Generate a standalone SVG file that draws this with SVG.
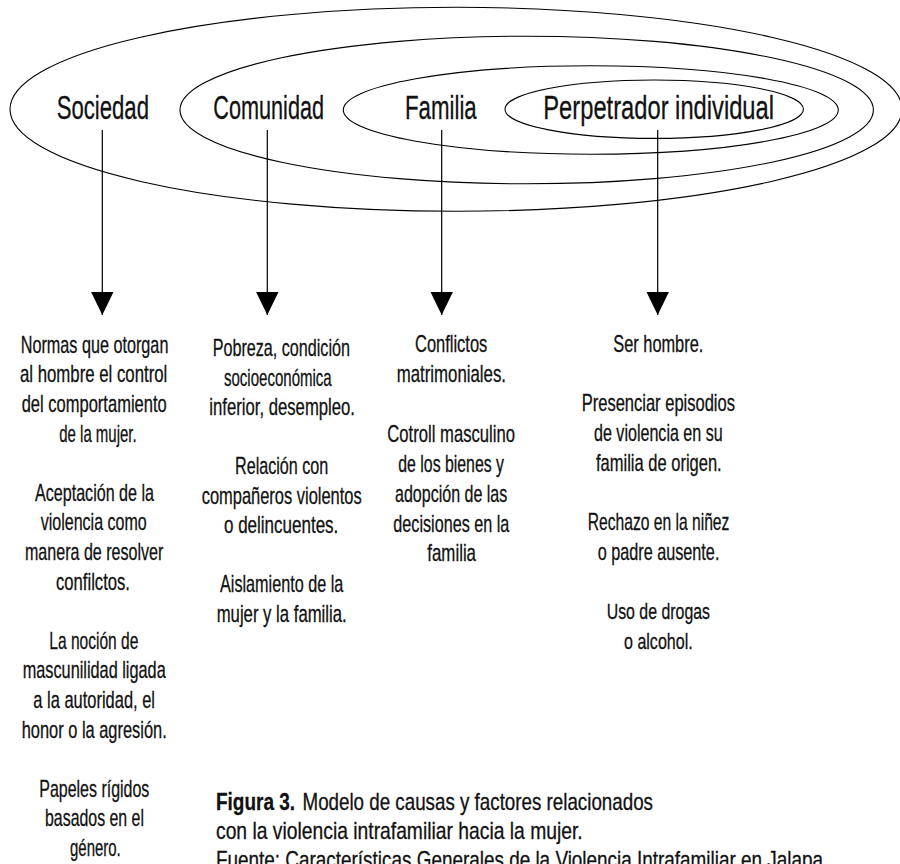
<svg xmlns="http://www.w3.org/2000/svg" width="900" height="864" viewBox="0 0 900 864">
  <defs>
    <style>
      .ring { fill: none; stroke: #000; stroke-width: 1.1; }
      .conn { stroke: #000; stroke-width: 1.2; fill: none; }
      text { font-family: "Liberation Sans Narrow", "Liberation Sans", "DejaVu Sans Condensed", sans-serif; fill: #111; stroke: #111; stroke-width: 0.3; }
      .head { font-size: 33.5px; }
      .body { font-size: 24px; }
      .small { font-size: 22px; }
      .bold { font-weight: bold; }
    </style>
    <marker id="arrow" markerUnits="userSpaceOnUse" markerWidth="24" markerHeight="24" viewBox="0 0 24 24" refX="23.3" refY="11.35" orient="auto">
      <path d="M0,0 L23.3,11.35 L0,22.7 Z" fill="#000"/>
    </marker>
  </defs>
  <rect width="900" height="864" fill="#fff"/>

  <g id="sociedad">
    <ellipse class="ring" cx="456" cy="109.3" rx="446" ry="102"/>
    <text class="head" x="56.7" y="119.3" textLength="92.3" lengthAdjust="spacingAndGlyphs">Sociedad</text>
  </g>
  <g id="comunidad">
    <ellipse class="ring" cx="526.7" cy="110" rx="346.7" ry="73.8"/>
    <text class="head" x="213.3" y="119.3" textLength="110.7" lengthAdjust="spacingAndGlyphs">Comunidad</text>
  </g>
  <g id="familia">
    <ellipse class="ring" cx="590.8" cy="110" rx="247.5" ry="44.2"/>
    <text class="head" x="405" y="119.3" textLength="71.7" lengthAdjust="spacingAndGlyphs">Familia</text>
  </g>
  <g id="perpetrador">
    <ellipse class="ring" cx="654.2" cy="109.2" rx="149.2" ry="29.2"/>
    <text class="head" x="543.3" y="119.3" textLength="230.7" lengthAdjust="spacingAndGlyphs">Perpetrador individual</text>
  </g>

  <g id="connectors">
    <line class="conn" x1="102.3" y1="130" x2="102.3" y2="315" marker-end="url(#arrow)"/>
    <line class="conn" x1="267.3" y1="130" x2="267.3" y2="315" marker-end="url(#arrow)"/>
    <line class="conn" x1="441.7" y1="130" x2="441.7" y2="315" marker-end="url(#arrow)"/>
    <line class="conn" x1="657.7" y1="130" x2="657.7" y2="315" marker-end="url(#arrow)"/>
  </g>

  <g id="factores-sociedad">
    <text class="body" x="20.7" y="352.7" textLength="147.7" lengthAdjust="spacingAndGlyphs">Normas que otorgan</text>
    <text class="body" x="20" y="382.3" textLength="147.3" lengthAdjust="spacingAndGlyphs">al hombre el control</text>
    <text class="body" x="21.7" y="411.9" textLength="145" lengthAdjust="spacingAndGlyphs">del comportamiento</text>
    <text class="body" x="59.3" y="441.5" textLength="77.3" lengthAdjust="spacingAndGlyphs">de la mujer.</text>
    <text class="body" x="35" y="500.7" textLength="119" lengthAdjust="spacingAndGlyphs">Aceptación de la</text>
    <text class="body" x="40.7" y="530.3" textLength="106" lengthAdjust="spacingAndGlyphs">violencia como</text>
    <text class="body" x="25" y="559.9" textLength="138.3" lengthAdjust="spacingAndGlyphs">manera de resolver</text>
    <text class="body" x="56" y="589.5" textLength="74" lengthAdjust="spacingAndGlyphs">confilctos.</text>
    <text class="body" x="49.3" y="648.7" textLength="89" lengthAdjust="spacingAndGlyphs">La noción de</text>
    <text class="body" x="22.7" y="678.3" textLength="143" lengthAdjust="spacingAndGlyphs">mascunilidad ligada</text>
    <text class="body" x="33.3" y="707.9" textLength="121.7" lengthAdjust="spacingAndGlyphs">a la autoridad, el</text>
    <text class="body" x="21.7" y="737.5" textLength="145" lengthAdjust="spacingAndGlyphs">honor o la agresión.</text>
    <text class="body" x="39.3" y="796.7" textLength="110" lengthAdjust="spacingAndGlyphs">Papeles rígidos</text>
    <text class="body" x="45" y="826.3" textLength="99" lengthAdjust="spacingAndGlyphs">basados en el</text>
    <text class="body" x="70" y="855.9" textLength="50.7" lengthAdjust="spacingAndGlyphs">género.</text>
  </g>

  <g id="factores-comunidad">
    <text class="body" x="212.7" y="356" textLength="137.3" lengthAdjust="spacingAndGlyphs">Pobreza, condición</text>
    <text class="body" x="224" y="385.5" textLength="107.7" lengthAdjust="spacingAndGlyphs">socioeconómica</text>
    <text class="body" x="209.3" y="415" textLength="145.7" lengthAdjust="spacingAndGlyphs">inferior, desempleo.</text>
    <text class="body" x="235" y="474" textLength="93.3" lengthAdjust="spacingAndGlyphs">Relación con</text>
    <text class="body" x="201.7" y="503.5" textLength="160" lengthAdjust="spacingAndGlyphs">compañeros violentos</text>
    <text class="body" x="224" y="533" textLength="114.3" lengthAdjust="spacingAndGlyphs">o delincuentes.</text>
    <text class="body" x="220" y="592" textLength="123.3" lengthAdjust="spacingAndGlyphs">Aislamiento de la</text>
    <text class="body" x="216.7" y="621.5" textLength="130" lengthAdjust="spacingAndGlyphs">mujer y la familia.</text>
  </g>

  <g id="factores-familia">
    <text class="body" x="415" y="351.7" textLength="72.3" lengthAdjust="spacingAndGlyphs">Conflictos</text>
    <text class="body" x="396.7" y="381.7" textLength="109.3" lengthAdjust="spacingAndGlyphs">matrimoniales.</text>
    <text class="body" x="387.3" y="441.7" textLength="127.7" lengthAdjust="spacingAndGlyphs">Cotroll masculino</text>
    <text class="body" x="398.3" y="471.7" textLength="105.7" lengthAdjust="spacingAndGlyphs">de los bienes y</text>
    <text class="body" x="395" y="501.7" textLength="112.3" lengthAdjust="spacingAndGlyphs">adopción de las</text>
    <text class="body" x="393.3" y="531.7" textLength="116" lengthAdjust="spacingAndGlyphs">decisiones en la</text>
    <text class="body" x="427.3" y="560.5" textLength="48.7" lengthAdjust="spacingAndGlyphs">familia</text>
  </g>

  <g id="factores-individual">
    <text class="body" x="613.3" y="351.7" textLength="90" lengthAdjust="spacingAndGlyphs">Ser hombre.</text>
    <text class="body" x="581.7" y="411.1" textLength="153.3" lengthAdjust="spacingAndGlyphs">Presenciar episodios</text>
    <text class="body" x="594" y="440.8" textLength="128.7" lengthAdjust="spacingAndGlyphs">de violencia en su</text>
    <text class="body" x="596" y="470.5" textLength="125.7" lengthAdjust="spacingAndGlyphs">familia de origen.</text>
    <text class="body" x="587.7" y="529.9" textLength="141.7" lengthAdjust="spacingAndGlyphs">Rechazo en la niñez</text>
    <text class="body" x="597.7" y="559.6" textLength="121.7" lengthAdjust="spacingAndGlyphs">o padre ausente.</text>
    <text class="small" x="606.7" y="619" textLength="103.3" lengthAdjust="spacingAndGlyphs">Uso de drogas</text>
    <text class="small" x="624" y="648.7" textLength="68.7" lengthAdjust="spacingAndGlyphs">o alcohol.</text>
  </g>

  <g id="caption">
    <text class="body bold" x="216" y="810" textLength="79" lengthAdjust="spacingAndGlyphs">Figura 3.</text>
    <text class="body" x="302.5" y="810" textLength="350.5" lengthAdjust="spacingAndGlyphs">Modelo de causas y factores relacionados</text>
    <text class="body" x="216" y="839" textLength="366.7" lengthAdjust="spacingAndGlyphs">con la violencia intrafamiliar hacia la mujer.</text>
    <text class="body" x="216" y="868" textLength="607" lengthAdjust="spacingAndGlyphs">Fuente: Características Generales de la Violencia Intrafamiliar en Jalapa</text>
  </g>
</svg>
